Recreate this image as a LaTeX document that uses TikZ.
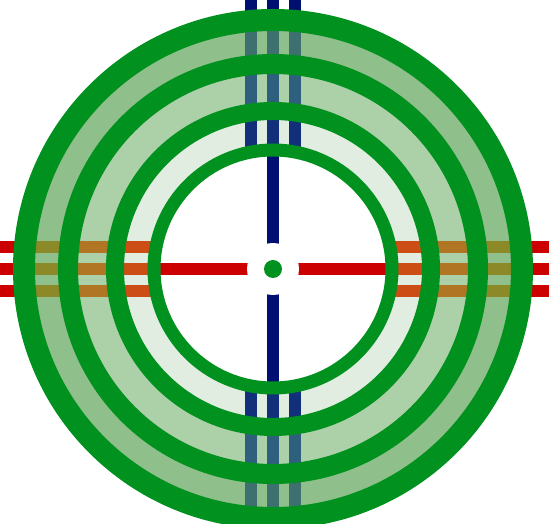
\documentclass[tikz,border=0pt]{standalone}
\definecolor{ringgreen}{RGB}{0,145,30}
\definecolor{railred}{RGB}{204,0,0}
\definecolor{railblue}{RGB}{0,16,112}
\definecolor{bandouter}{RGB}{143,191,138}
\definecolor{bandmid}{RGB}{172,208,168}
\definecolor{bandinner}{RGB}{224,237,224}
\definecolor{redouter}{RGB}{140,138,40}
\definecolor{redmid}{RGB}{176,118,36}
\definecolor{redinner}{RGB}{204,78,20}
\definecolor{blueouter}{RGB}{62,112,112}
\definecolor{bluemid}{RGB}{46,96,126}
\definecolor{blueinner}{RGB}{18,48,122}
\begin{document}
\begin{tikzpicture}[x=1pt,y=1pt,
    redrail/.style={line width=12pt},
    bluerail/.style={line width=12pt}]
    \useasboundingbox (-273,-255) rectangle (276,269);
    \coordinate (hub) at (0,0);

    \foreach \d in {-22,0,22}
    {
        \draw[railred, redrail] (-273,\d) -- (276,\d);
        \draw[railblue, bluerail] (\d,-255) -- (\d,269);
    }

    % bands, with the rails tinted where they cross
    \foreach \ro/\ri/\bc/\rc/\lc in {249/205/bandouter/redouter/blueouter,
        205/158/bandmid/redmid/bluemid, 158/119/bandinner/redinner/blueinner}
    {
        \begin{scope}[even odd rule]
            \clip (hub) circle (\ro) (hub) circle (\ri);
            \fill[\bc] (hub) circle (\ro);
            \foreach \d in {-22,0,22}
            {
                \draw[\rc, redrail] (-273,\d) -- (276,\d);
                \draw[\lc, bluerail] (\d,-255) -- (\d,269);
            }
        \end{scope}
    }
    \fill[white] (hub) circle (119);

    \draw[railred, redrail] (-120,0) -- (120,0);
    \draw[railblue, bluerail] (0,-120) -- (0,120);
    \fill[white] (hub) circle (26);

    \foreach \r/\w in {249/22,205/20,158/18,119/13}
    {
        \draw[ringgreen, line width=\w pt] (hub) circle (\r);
    }
    \fill[ringgreen] (hub) circle (9);
\end{tikzpicture}
\end{document}
